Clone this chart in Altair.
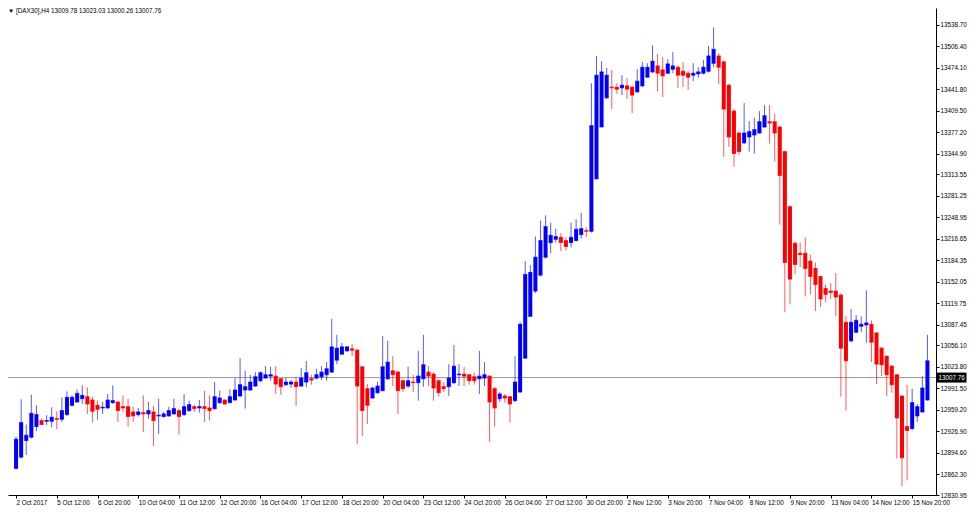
import altair as alt
import pandas as pd

# OHLC values (H4 bars), oldest first
opens = [12871, 12888, 12913, 12918, 12934, 12943, 12942, 12942, 12946, 12945,
         12952, 12966, 12971, 12976, 12979, 12974, 12966, 12962, 12962, 12970,
         12971, 12964, 12964, 12956, 12952, 12955, 12953, 12956, 12950, 12949,
         12950, 12953, 12958, 12952, 12958, 12964, 12962, 12964, 12962, 12961,
         12970, 12974, 12970, 12974, 12980, 12989, 12989, 12995, 13003, 13007,
         13010, 13010, 13006, 12997, 12998, 13001, 12995, 13001, 13006, 13007,
         13009, 13012, 13016, 13034, 13043, 13048, 13051, 13049, 13024, 12991,
         12977, 12985, 12988, 13006, 13018, 13016, 13003, 12995, 13001, 13000,
         13006, 13016, 13013, 13003, 12994, 12994, 13000, 13012, 13013, 13012,
         13009, 13006, 13007, 13010, 12991, 12976, 12980, 12979, 12973, 12986,
         13037, 13100, 13138, 13162, 13189, 13211, 13216, 13219, 13214, 13211,
         13214, 13223, 13229, 13228, 13307, 13385, 13429, 13445, 13445, 13444,
         13447, 13445, 13438, 13447, 13460, 13468, 13477, 13471, 13466, 13472,
         13475, 13469, 13466, 13463, 13465, 13466, 13469, 13481, 13492, 13483,
         13448, 13409, 13376, 13361, 13370, 13373, 13376, 13385, 13393, 13393,
         13385, 13348, 13265, 13210, 13195, 13195, 13183, 13172, 13160, 13142,
         13138, 13138, 13132, 13091, 13063, 13076, 13085, 13087, 13088, 13075,
         13052, 13040, 13025, 13012, 12980, 12934, 12931, 12950, 12956, 12974]
highs = [12919, 12975, 12937, 12982, 12966, 12946, 12951, 12963, 12957, 12978,
         12987, 12981, 12990, 12996, 12993, 12979, 12973, 12971, 12983, 12996,
         12972, 12981, 12976, 12964, 12962, 12981, 12971, 12965, 12976, 12956,
         12964, 12976, 12961, 12983, 12973, 12967, 12974, 12988, 12981, 13001,
         12988, 12975, 12990, 13007, 13037, 13018, 13012, 13016, 13017, 13025,
         13024, 13025, 13007, 13007, 13004, 13009, 13022, 13033, 13012, 13021,
         13025, 13031, 13096, 13072, 13060, 13055, 13058, 13051, 13025, 12998,
         12994, 13001, 13070, 13063, 13040, 13018, 13006, 13024, 13012, 13048,
         13072, 13025, 13016, 13006, 13001, 13028, 13057, 13028, 13024, 13013,
         13015, 13048, 13031, 13011, 12994, 12986, 12983, 12980, 13040, 13091,
         13183, 13177, 13220, 13244, 13252, 13241, 13232, 13225, 13219, 13241,
         13246, 13256, 13234, 13451, 13492, 13484, 13474, 13471, 13451, 13463,
         13459, 13447, 13472, 13483, 13481, 13508, 13495, 13490, 13487, 13498,
         13477, 13483, 13469, 13481, 13475, 13486, 13507, 13535, 13496, 13486,
         13450, 13412, 13378, 13421, 13394, 13399, 13409, 13418, 13418, 13405,
         13387, 13349, 13267, 13213, 13211, 13219, 13193, 13181, 13161, 13148,
         13150, 13165, 13135, 13100, 13111, 13102, 13100, 13139, 13094, 13076,
         13054, 13041, 13027, 13013, 12981, 12997, 12991, 12968, 13010, 13072]
lows = [12870, 12886, 12891, 12916, 12927, 12936, 12936, 12933, 12930, 12941,
        12950, 12964, 12970, 12968, 12953, 12940, 12944, 12953, 12961, 12968,
        12941, 12956, 12934, 12941, 12949, 12926, 12946, 12905, 12923, 12948,
        12949, 12952, 12922, 12950, 12956, 12956, 12955, 12941, 12943, 12959,
        12968, 12967, 12969, 12973, 12979, 12961, 12988, 12994, 13001, 13006,
        13003, 12983, 12982, 12995, 12992, 12965, 12994, 12993, 12997, 13005,
        13004, 13003, 13015, 13028, 13042, 13046, 13040, 12908, 12920, 12938,
        12976, 12983, 12987, 13004, 12995, 12953, 12986, 12992, 12986, 12973,
        12994, 12995, 12973, 12979, 12986, 12980, 12998, 12995, 12995, 12997,
        12997, 12983, 12995, 12911, 12934, 12971, 12970, 12940, 12971, 12985,
        13036, 13099, 13135, 13160, 13187, 13195, 13211, 13198, 13199, 13204,
        13213, 13217, 13219, 13226, 13306, 13385, 13427, 13412, 13435, 13433,
        13427, 13406, 13436, 13445, 13460, 13466, 13439, 13430, 13465, 13466,
        13444, 13445, 13441, 13454, 13459, 13464, 13467, 13475, 13450, 13340,
        13355, 13325, 13343, 13360, 13348, 13345, 13375, 13384, 13360, 13333,
        13238, 13106, 13118, 13163, 13174, 13130, 13133, 13108, 13114, 13121,
        13126, 13100, 12979, 12958, 13061, 13075, 13076, 13060, 13031, 12998,
        13010, 12980, 12985, 12886, 12844, 12853, 12929, 12941, 12955, 12973]
closes = [12915, 12940, 12921, 12954, 12952, 12937, 12943, 12948, 12945, 12958,
          12978, 12978, 12984, 12981, 12968, 12957, 12960, 12963, 12974, 12973,
          12958, 12962, 12949, 12950, 12956, 12953, 12958, 12943, 12951, 12953,
          12958, 12961, 12949, 12964, 12967, 12961, 12964, 12961, 12958, 12979,
          12977, 12968, 12979, 12989, 12997, 12994, 13001, 13009, 13015, 13012,
          13012, 12998, 12994, 13001, 13001, 12994, 13007, 13015, 13004, 13012,
          13016, 13021, 13054, 13052, 13054, 13054, 13049, 12995, 12958, 12966,
          12992, 12995, 13024, 13031, 13012, 12988, 12991, 13003, 13000, 13010,
          13027, 13010, 12992, 12985, 12991, 13007, 13025, 13013, 13010, 13003,
          13003, 13010, 13012, 12971, 12962, 12983, 12977, 12968, 13001, 13088,
          13163, 13166, 13189, 13214, 13235, 13222, 13220, 13211, 13205, 13219,
          13231, 13232, 13228, 13387, 13463, 13468, 13463, 13444, 13442, 13448,
          13442, 13433, 13454, 13475, 13475, 13484, 13466, 13462, 13480, 13477,
          13463, 13463, 13460, 13466, 13468, 13475, 13492, 13502, 13475, 13412,
          13370, 13345, 13348, 13376, 13378, 13381, 13393, 13402, 13391, 13376,
          13312, 13181, 13156, 13178, 13193, 13172, 13160, 13148, 13126, 13133,
          13136, 13129, 13052, 13033, 13091, 13094, 13088, 13090, 13061, 13028,
          13027, 13012, 12997, 12947, 12887, 12928, 12970, 12964, 12992, 13033]

time_labels = ["2 Oct 2017", "5 Oct 12:00", "6 Oct 20:00", "10 Oct 04:00",
               "11 Oct 12:00", "12 Oct 20:00", "16 Oct 04:00", "17 Oct 12:00",
               "18 Oct 20:00", "20 Oct 04:00", "23 Oct 12:00", "24 Oct 20:00",
               "26 Oct 04:00", "27 Oct 12:00", "30 Oct 20:00", "2 Nov 12:00",
               "3 Nov 20:00", "7 Nov 04:00", "8 Nov 12:00", "9 Nov 20:00",
               "13 Nov 04:00", "14 Nov 12:00", "15 Nov 20:00"]
label_every = 8

price_ticks = [13538.70, 13506.40, 13474.10, 13441.80, 13409.50, 13377.20,
               13344.90, 13313.55, 13281.25, 13248.95, 13216.65, 13184.35,
               13152.05, 13119.75, 13087.45, 13056.10, 13023.80, 12991.50,
               12959.20, 12926.90, 12894.60, 12862.30, 12830.95]
bid_price = 13007.76
header_text = "\u25bc [DAX30],H4  13009.78 13023.03 13000.26 13007.76"

df = pd.DataFrame({
    "bar": list(range(len(opens))),
    "open": opens, "high": highs, "low": lows, "close": closes,
})
df["dir"] = ["up" if c >= o else "down" for o, c in zip(opens, closes)]

bid_df = pd.DataFrame({"price": [bid_price], "label": [f"{bid_price:.2f}"]})

FONT = "Liberation Sans"
W, H = 928, 487
RIGHT_PAD = 31

label_array = "[" + ",".join("'" + t + "'" for t in time_labels) + "]"
x_scale = alt.Scale(domain=[-0.6, 179.7], nice=False, zero=False)
y_scale = alt.Scale(domain=[12830.95, 13564.2], nice=False, zero=False)

x_axis = alt.Axis(orient="bottom", values=[i * label_every for i in range(len(time_labels))],
                  labelExpr=f"{label_array}[round(datum.value/{label_every})]",
                  labelAlign="left", labelPadding=1, labelFont=FONT, labelFontSize=6.3,
                  labelColor="#000000", tickColor="#000000", tickSize=3,
                  domainColor="#000000", grid=False, title=None, labelOverlap=False,
                  labelFlush=False)
y_axis = alt.Axis(orient="right", values=price_ticks, format=".2f", labelPadding=1,
                  labelFont=FONT, labelFontSize=6.3, labelColor="#000000",
                  tickColor="#000000", tickSize=3, domainColor="#000000",
                  grid=False, title=None, labelOverlap=False, labelFlush=False)

color = alt.Color("dir:N", scale=alt.Scale(domain=["up", "down"], range=["#0000ff", "#ff0000"]),
                  legend=None)


def X(field):
    return alt.X(field, scale=x_scale, axis=x_axis, title=None)


def Y(field):
    return alt.Y(field, scale=y_scale, axis=y_axis, title=None)


base = alt.Chart(df)

bidline = alt.Chart(bid_df).mark_rule(color="#9a9a9a", strokeWidth=1).encode(
    y=Y("price:Q")
)

wicks = base.mark_rule(strokeWidth=1, opacity=0.65).encode(
    x=X("bar:Q"), y=Y("high:Q"), y2="low:Q", color=color,
)

bodies = base.mark_bar(size=4).encode(
    x=X("bar:Q"), y=Y("open:Q"), y2="close:Q", color=color,
)

open_ticks = base.mark_tick(orient="horizontal", size=4, thickness=1).encode(
    x=X("bar:Q"), y=Y("open:Q"), color=color,
)
close_ticks = base.mark_tick(orient="horizontal", size=4, thickness=1).encode(
    x=X("bar:Q"), y=Y("close:Q"), color=color,
)

bid_box = alt.Chart(bid_df).mark_tick(orient="horizontal", size=30, thickness=10,
                                      color="#000000", opacity=1).encode(
    x=alt.value(W + 15.5),
    y=Y("price:Q"),
)
bid_text = alt.Chart(bid_df).mark_text(align="center", baseline="middle", font=FONT,
                                       fontSize=6.3, color="#ffffff").encode(
    x=alt.value(W + 15.5),
    y=Y("price:Q"),
    text="label:N",
)

header = alt.Chart(bid_df).mark_text(align="left", baseline="middle", font=FONT,
                                     fontSize=6.3, color="#000000").encode(
    x=alt.value(0),
    y=alt.value(3),
    text=alt.value(header_text),
)

chart = alt.layer(bidline, wicks, bodies, open_ticks, close_ticks, bid_box, bid_text, header).properties(
    width=W, height=H, background="#ffffff",
    autosize=alt.AutoSizeParams(type="none"),
    padding={"left": 0, "top": 0, "right": RIGHT_PAD, "bottom": 11},
).configure_view(strokeWidth=0).configure_axis(labelOverlap=False)

chart.save("out.html", embed_options={"renderer": "svg", "actions": False})
